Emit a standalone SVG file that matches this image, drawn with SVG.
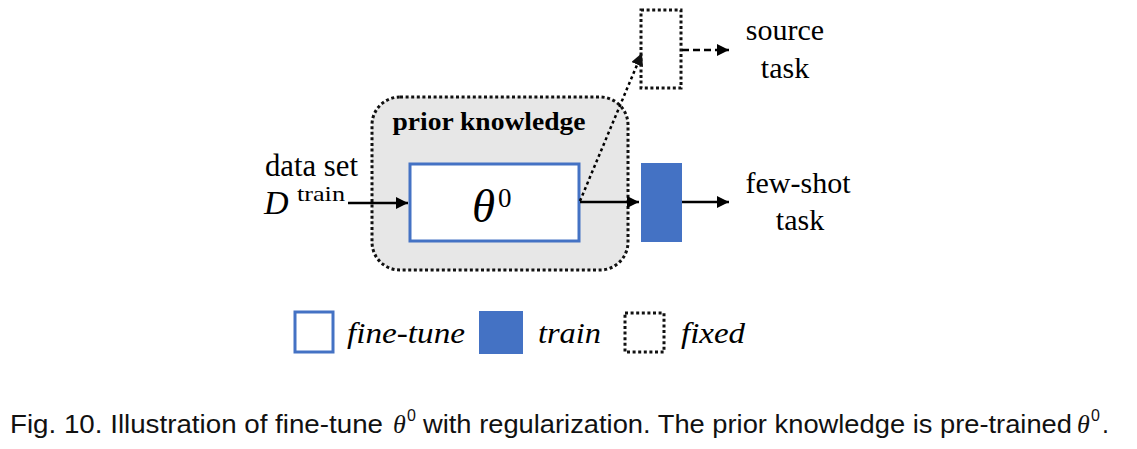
<svg xmlns="http://www.w3.org/2000/svg" width="1137" height="449" viewBox="0 0 1137 449">
<defs>
<style>
.serif{font-family:"Liberation Serif","Times New Roman",serif;fill:#000}
.it{font-style:italic}
.cap{font-family:"Liberation Sans","Noto Sans",sans-serif;font-size:25px;fill:#111}
.sup{font-family:"Liberation Sans","Noto Sans",sans-serif;font-size:16px;fill:#111}
.capth{font-family:"Liberation Serif","Times New Roman",serif;font-style:italic;font-size:26px;fill:#111}
.dot{fill:none;stroke:#111;stroke-width:3;stroke-dasharray:3 2.6}
.blue{fill:#4472C4}
.ft{fill:#fff;stroke:#4472C4;stroke-width:3}
.conn{stroke:#000;stroke-width:2.5;fill:none}
</style>
<marker id="ah" viewBox="0 0 10 10" refX="10" refY="5" markerWidth="5" markerHeight="5" orient="auto" markerUnits="strokeWidth">
<path d="M0,0 L10,5 L0,10 Z" fill="#000"/>
</marker>
<marker id="ah2" viewBox="0 0 10 10" refX="10" refY="5" markerWidth="5" markerHeight="5" orient="auto" markerUnits="strokeWidth">
<path d="M0,0 L10,5 L0,10 Z" fill="#111"/>
</marker>
</defs>
<rect width="1137" height="449" fill="#fff"/>

<g id="prior">
<rect x="372" y="97" width="256" height="173" rx="28" class="dot" style="fill:#e7e7e7"/>
<text x="489" y="130" class="serif" font-weight="bold" font-size="26" text-anchor="middle" textLength="193" lengthAdjust="spacingAndGlyphs">prior knowledge</text>
</g>

<g id="theta">
<rect x="410" y="164" width="169" height="77" class="ft"/>
<text x="472" y="222" class="serif it" font-size="47">θ</text>
<text x="498" y="207" class="serif" font-size="27">0</text>
</g>

<g id="fixedbox">
<rect x="641" y="10" width="40" height="78" class="dot"/>
</g>

<g id="trainbox">
<rect x="641" y="163" width="41" height="79" class="blue"/>
</g>

<g id="input">
<text x="265" y="176" class="serif" font-size="31" textLength="93" lengthAdjust="spacingAndGlyphs">data set</text>
<text x="264" y="214" class="serif it" font-size="34">D</text>
<text x="297" y="201" class="serif" font-size="22" textLength="48" lengthAdjust="spacingAndGlyphs">train</text>
</g>

<g id="source">
<text x="785" y="40" class="serif" font-size="30" text-anchor="middle">source</text>
<text x="785" y="78" class="serif" font-size="30" text-anchor="middle">task</text>
</g>

<g id="fewshot">
<text x="798" y="193" class="serif" font-size="30" text-anchor="middle">few-shot</text>
<text x="800" y="230" class="serif" font-size="30" text-anchor="middle">task</text>
</g>

<g id="connectors">
<line x1="348" y1="203" x2="408" y2="203" class="conn" marker-end="url(#ah)"/>
<line x1="580" y1="202" x2="639" y2="202" class="conn" marker-end="url(#ah)"/>
<line x1="682" y1="202" x2="729" y2="202" class="conn" marker-end="url(#ah)"/>
<line x1="682" y1="50" x2="729" y2="50" class="conn" stroke-dasharray="7 4" marker-end="url(#ah)"/>
<line x1="580" y1="201" x2="642" y2="53" class="conn" stroke-dasharray="3 3" marker-end="url(#ah2)"/>
</g>

<g id="legend">
<rect x="295" y="312" width="38" height="40" class="ft"/>
<text x="347" y="343" class="serif it" font-size="29" textLength="118" lengthAdjust="spacingAndGlyphs">fine-tune</text>
<rect x="479" y="311" width="44" height="43" class="blue"/>
<text x="538" y="343" class="serif it" font-size="29" textLength="63" lengthAdjust="spacingAndGlyphs">train</text>
<rect x="625" y="313" width="39" height="39" class="dot"/>
<text x="681" y="343" class="serif it" font-size="29" textLength="64" lengthAdjust="spacingAndGlyphs">fixed</text>
</g>

<g id="caption">
<text x="10" y="433" class="cap" textLength="373" lengthAdjust="spacingAndGlyphs">Fig. 10.  Illustration of fine-tune</text>
<text x="393" y="433" class="capth">θ</text>
<text x="407" y="421" class="sup">0</text>
<text x="423" y="433" class="cap" textLength="649" lengthAdjust="spacingAndGlyphs">with regularization. The prior knowledge is pre-trained</text>
<text x="1077" y="433" class="capth">θ</text>
<text x="1091" y="421" class="sup">0</text>
<text x="1102" y="433" class="cap">.</text>
</g>
</svg>
